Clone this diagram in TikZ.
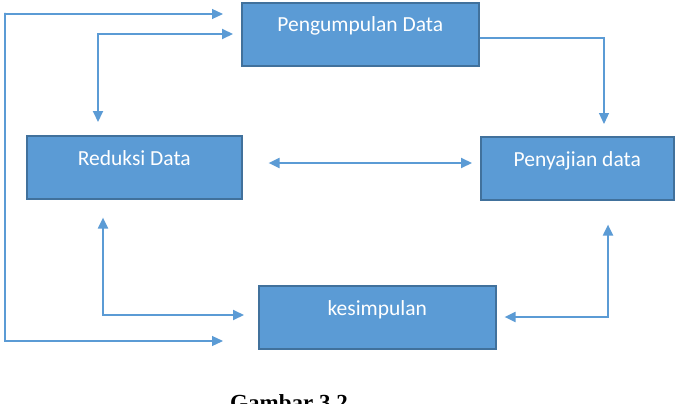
\documentclass[tikz,border=0pt]{standalone}
\usepackage{fontspec}
\setmainfont{Carlito}
\newfontfamily\capfont{Liberation Serif}
\usetikzlibrary{arrows.meta,calc}
\definecolor{boxfill}{HTML}{5B9BD5}
\definecolor{boxline}{HTML}{41719C}
\definecolor{arrowc}{HTML}{5B9BD5}
\tikzset{
  box/.style={draw=boxline, line width=1.6pt, fill=boxfill, anchor=north west, inner sep=0pt},
  boxtext/.style={anchor=base, text=white, inner sep=0pt, font=\fontsize{21.5}{24}\selectfont},
  conn/.style={draw=arrowc, line width=2pt, {Triangle[length=11pt,width=10pt]}-{Triangle[length=11pt,width=10pt]}},
  thinconn/.style={draw=arrowc, line width=1.2pt, {Triangle[length=11pt,width=10pt]}-{Triangle[length=11pt,width=10pt]}},
  oneway/.style={draw=arrowc, line width=1.2pt, -{Triangle[length=11pt,width=10pt]}},
}
\begin{document}
\begin{tikzpicture}[x=1pt,y=-1pt]
\useasboundingbox (0,0) rectangle (677,404);
\clip (0,0) rectangle (677,404);
\fill[white] (0,0) rectangle (677,404);

% boxes
\node[box, minimum width=237pt, minimum height=63pt] (pd) at (241,2) {};
\node[box, minimum width=215pt, minimum height=63pt] (rd) at (26,135) {};
\node[box, minimum width=193pt, minimum height=63pt] (ps) at (480,136) {};
\node[box, minimum width=237pt, minimum height=63pt] (ks) at (258,285) {};

\node[boxtext] (pdt) at ([yshift=-30pt]pd.north) {Pengumpulan Data};
\node[boxtext] (rdt) at ([yshift=-30pt]rd.north) {Reduksi Data};
\node[boxtext] (pst) at ([yshift=-30pt]ps.north) {Penyajian data};
\node[boxtext] (kst) at ([yshift=-30pt]ks.north) {kesimpulan};

% connector end points relative to the boxes
\coordinate (oTop) at ($(pd.north west)+(-18,12)$);
\coordinate (oBot) at ($(ks.north west)+(-35,56)$);
\coordinate (oL) at (5,13);

\coordinate (iRight) at ($(pd.north west)+(-8,32)$);
\coordinate (iDown) at ($(rd.north west)+(72,-13)$);

\coordinate (pdOut) at ($(pd.north east)+(0,36)$);
\coordinate (psIn) at ($(ps.north west)+(124,-12)$);

\coordinate (rdR) at ($(rd.north east)+(26,28)$);
\coordinate (psL) at ($(ps.north west)+(-8,27)$);

\coordinate (rdB) at ($(rd.south west)+(77,18)$);
\coordinate (ksL) at ($(ks.north west)+(-14,30)$);

\coordinate (ksR) at ($(ks.north east)+(8,32)$);
\coordinate (psB) at ($(ps.south west)+(128,24)$);

% connectors
\draw[thinconn] (oTop) -| (oL) |- (oBot);
\draw[conn] (iDown) |- (iRight);
\draw[oneway] (pdOut) -| (psIn);
\draw[conn] (rdR) -- (psL);
\draw[conn] (rdB) |- (ksL);
\draw[conn] (ksR) -| (psB);

% caption
\node[anchor=base west, inner sep=0pt, font=\capfont\bfseries\fontsize{23}{23}\selectfont] (cap) at (230,410) {Gambar 3.2};
\end{tikzpicture}
\end{document}
